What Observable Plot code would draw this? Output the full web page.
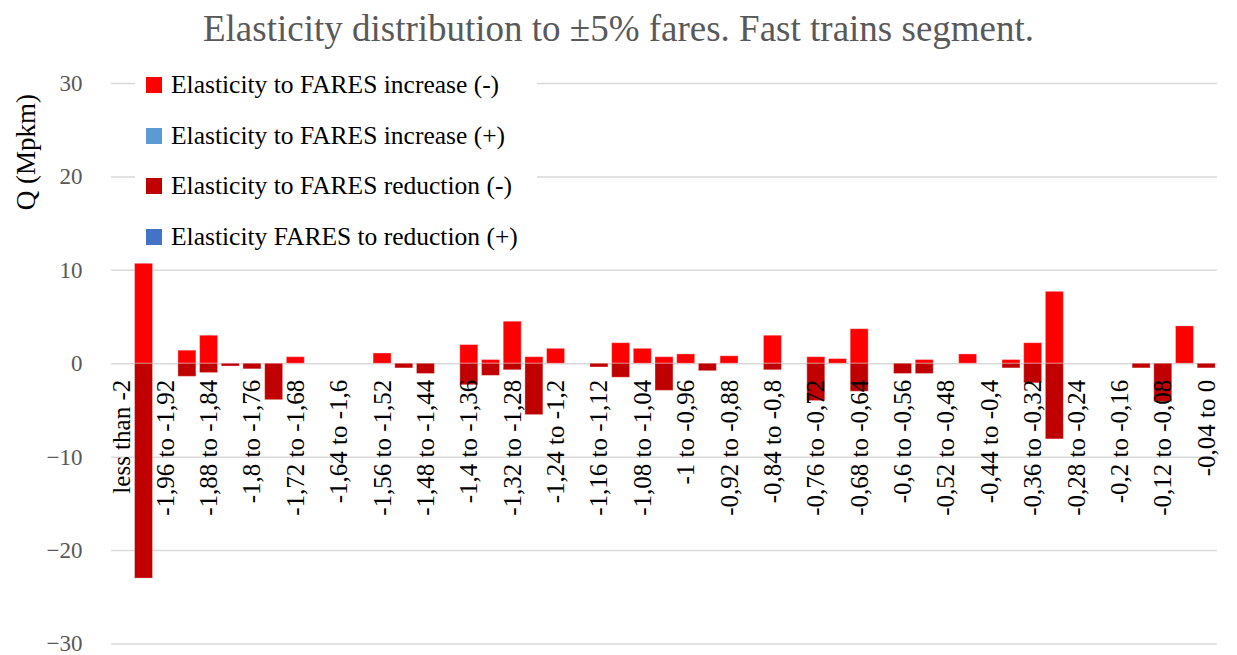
<!DOCTYPE html>
<html>
<head>
<meta charset="utf-8">
<script src="https://cdn.jsdelivr.net/npm/d3@7"></script>
<script src="https://cdn.jsdelivr.net/npm/@observablehq/plot@0.6"></script>
<style>
  html, body { margin: 0; padding: 0; background: #fff; }
  #wrap { position: relative; width: 1237px; height: 655px; font-family: "Liberation Serif", Tinos, "Times New Roman", Times, "DejaVu Serif", serif; overflow: hidden; }
  #title { height: 58px; line-height: 58px; text-align: center; font-size: 37px; color: #595959; white-space: nowrap; }
  #ylabel { position: absolute; left: 26px; top: 152px; transform: translate(-50%, -50%) rotate(-90deg); white-space: nowrap; font-size: 27px; line-height: 27px; color: #000; }
  #legend { position: absolute; left: 135px; top: 60px; width: 402px; height: 200px; background: #fff; }
  .item { height: 50.5px; display: flex; align-items: center; font-size: 25.5px; color: #000; white-space: nowrap; }
  .sw { width: 16px; height: 16px; margin-left: 11px; margin-right: 9px; flex: none; }
  svg, svg text { font-family: "Liberation Serif", Tinos, "Times New Roman", Times, "DejaVu Serif", serif !important; }
  g[aria-label="y-axis tick label"] { fill: #595959; }
</style>
</head>
<body>
<div id="wrap">
  <div id="title">Elasticity distribution to ±5% fares. Fast trains segment.</div>
  <div id="chart"></div>
  <div id="ylabel">Q (Mpkm)</div>
  <div id="legend"></div>
</div>
<script>
const categories = [
  "less than -2", "-2 to -1,96", "-1,96 to -1,92", "-1,92 to -1,88", "-1,88 to -1,84",
  "-1,84 to -1,8", "-1,8 to -1,76", "-1,76 to -1,72", "-1,72 to -1,68", "-1,68 to -1,64",
  "-1,64 to -1,6", "-1,6 to -1,56", "-1,56 to -1,52", "-1,52 to -1,48", "-1,48 to -1,44",
  "-1,44 to -1,4", "-1,4 to -1,36", "-1,36 to -1,32", "-1,32 to -1,28", "-1,28 to -1,24",
  "-1,24 to -1,2", "-1,2 to -1,16", "-1,16 to -1,12", "-1,12 to -1,08", "-1,08 to -1,04",
  "-1,04 to -1", "-1 to -0,96", "-0,96 to -0,92", "-0,92 to -0,88", "-0,88 to -0,84",
  "-0,84 to -0,8", "-0,8 to -0,76", "-0,76 to -0,72", "-0,72 to -0,68", "-0,68 to -0,64",
  "-0,64 to -0,6", "-0,6 to -0,56", "-0,56 to -0,52", "-0,52 to -0,48", "-0,48 to -0,44",
  "-0,44 to -0,4", "-0,4 to -0,36", "-0,36 to -0,32", "-0,32 to -0,28", "-0,28 to -0,24",
  "-0,24 to -0,2", "-0,2 to -0,16", "-0,16 to -0,12", "-0,12 to -0,08", "-0,08 to -0,04",
  "-0,04 to 0"
];

const tickLabels = [
  "less than -2", "-1,96 to -1,92", "-1,88 to -1,84", "-1,8 to -1,76", "-1,72 to -1,68",
  "-1,64 to -1,6", "-1,56 to -1,52", "-1,48 to -1,44", "-1,4 to -1,36", "-1,32 to -1,28",
  "-1,24 to -1,2", "-1,16 to -1,12", "-1,08 to -1,04", "-1 to -0,96", "-0,92 to -0,88",
  "-0,84 to -0,8", "-0,76 to -0,72", "-0,68 to -0,64", "-0,6 to -0,56", "-0,52 to -0,48",
  "-0,44 to -0,4", "-0,36 to -0,32", "-0,28 to -0,24", "-0,2 to -0,16", "-0,12 to -0,08",
  "-0,04 to 0"
];

// Elasticity to FARES increase (-)
const increaseNeg = [
  null, 10.7, null, 1.4, 3.0, null, null, null, 0.7, null,
  null, null, 1.1, null, null, null, 2.0, 0.4, 4.5, 0.7,
  1.6, null, null, 2.2, 1.6, 0.7, 1.0, null, 0.8, null,
  3.0, null, 0.7, 0.5, 3.7, null, null, 0.4, null, 1.0,
  null, 0.4, 2.2, 7.7, null, null, null, null, null, 4.0,
  null
];
// Elasticity to FARES increase (+)
const increasePos = [];
// Elasticity to FARES reduction (-)
const reductionNeg = [
  null, -23.0, null, -1.4, -1.0, -0.3, -0.6, -3.9, null, null,
  null, null, null, -0.5, -1.1, null, -2.3, -1.3, -0.7, -5.5,
  null, null, -0.4, -1.5, null, -2.9, null, -0.8, null, null,
  -0.7, null, -4.0, null, -3.0, null, -1.1, -1.1, null, null,
  null, -0.5, -2.1, -8.1, null, null, null, -0.5, -4.1, null,
  -0.5
];
// Elasticity FARES to reduction (+)
const reductionPos = [];

const yTicks = [30, 20, 10, 0, -10, -20, -30];

const seriesNames = [
  "Elasticity to FARES increase (-)",
  "Elasticity to FARES increase (+)",
  "Elasticity to FARES reduction (-)",
  "Elasticity FARES to reduction (+)"
];
const seriesColors = ["#FF0000", "#5B9BD5", "#C00000", "#4472C4"];

const FONT = '"Liberation Serif", Tinos, "Times New Roman", Times, "DejaVu Serif", serif';

const toRows = (arr) => categories.map((c, i) => ({cat: c, value: arr[i]})).filter(d => d.value != null);

const chart = Plot.plot({
  width: 1237,
  height: 597,
  marginTop: 25,
  marginBottom: 11.5,
  marginLeft: 111,
  marginRight: 20,
  x: {type: "band", domain: categories, paddingInner: 0.17, paddingOuter: 0.085, axis: null},
  y: {domain: [-30, 30], label: null},
  style: {fontFamily: FONT, background: "white", overflow: "visible"},
  marks: [
    Plot.ruleY(yTicks, {stroke: "#d9d9d9", strokeWidth: 1.5}),
    Plot.axisY(yTicks, {tickSize: 0, tickPadding: 29, fontSize: 23, color: "#595959", label: null}),
    Plot.barY(toRows(increaseNeg), {x: "cat", y: "value", fill: seriesColors[0], stroke: "white", strokeOpacity: 0.35, strokeWidth: 1}),
    Plot.barY(toRows(increasePos), {x: "cat", y: "value", fill: seriesColors[1]}),
    Plot.barY(toRows(reductionNeg), {x: "cat", y: "value", fill: seriesColors[2], stroke: "white", strokeOpacity: 0.35, strokeWidth: 1}),
    Plot.barY(toRows(reductionPos), {x: "cat", y: "value", fill: seriesColors[3]}),
    Plot.text(tickLabels, {x: d => d, y: () => 0, rotate: -90, textAnchor: "end", dy: 16, fontSize: 25, fill: "#000"})
  ]
});
document.getElementById("chart").appendChild(chart);

const legend = document.getElementById("legend");
seriesNames.forEach((name, i) => {
  const row = document.createElement("div");
  row.className = "item";
  const sw = document.createElement("span");
  sw.className = "sw";
  sw.style.background = seriesColors[i];
  const tx = document.createElement("span");
  tx.textContent = name;
  row.appendChild(sw);
  row.appendChild(tx);
  legend.appendChild(row);
});
</script>
</body>
</html>
